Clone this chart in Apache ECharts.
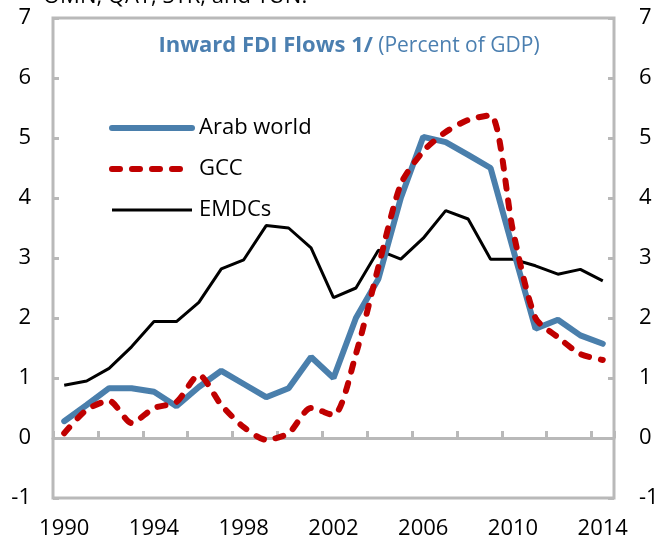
<!DOCTYPE html>
<html>
<head>
<meta charset="utf-8">
<script src="https://cdn.jsdelivr.net/npm/echarts@6/dist/echarts.min.js"></script>
<style>
  html, body { margin: 0; padding: 0; background: #fff; }
  #chart { width: 665px; height: 545px; }
</style>
</head>
<body>
<div id="chart"></div>
<script>
// years 1990-2014
const years = ['1990', '1991', '1992', '1993', '1994', '1995', '1996', '1997', '1998', '1999',
  '2000', '2001', '2002', '2003', '2004', '2005', '2006', '2007', '2008', '2009',
  '2010', '2011', '2012', '2013', '2014']

// inward FDI, percent of GDP
const arabWorld = [0.28, 0.55, 0.83, 0.83, 0.77, 0.53, 0.85, 1.12, 0.9, 0.68,
  0.83, 1.35, 1.0, 2.0, 2.65, 4.0, 5.02, 4.93, 4.72, 4.5,
  3.15, 1.82, 1.97, 1.71, 1.57]
const gcc = [0.08, 0.47, 0.62, 0.25, 0.5, 0.6, 1.05, 0.55, 0.18, -0.03,
  0.08, 0.5, 0.38, 1.4, 2.85, 4.23, 4.78, 5.1, 5.3, 5.38,
  3.45, 2.0, 1.68, 1.4, 1.3]
const emdcs = [0.88, 0.95, 1.16, 1.52, 1.94, 1.94, 2.26, 2.82, 2.97, 3.54,
  3.5, 3.17, 2.34, 2.5, 3.13, 2.98, 3.33, 3.79, 3.65, 2.98,
  2.98, 2.87, 2.73, 2.81, 2.62]

const yMin = -1
const yMax = 7

const font = 'Open Sans'
const gray = '#b9b9b9'
const blue = '#4a7fac'
const red = '#c00000'

const chart = echarts.init(document.getElementById('chart'))

const yAxisCommon = {
  type: 'value',
  min: yMin,
  max: yMax,
  interval: 1,
  axisLine: { show: false },
  axisTick: { show: true, inside: true, length: 6, lineStyle: { color: gray, width: 3 } },
  splitLine: { show: false },
}

chart.setOption({
  animation: false,
  grid: {
    left: 53,
    right: 51,
    top: 18,
    bottom: 47,
    show: true,
    borderColor: gray,
    borderWidth: 3,
    backgroundColor: 'transparent',
  },
  graphic: [
    {
      // footnote text cut off at the top of the picture
      type: 'text',
      left: 43,
      top: -14,
      style: { text: 'OMN, QAT, SYR, and TUN.', fontFamily: font, fontSize: 22, fill: '#000' },
    },
  ],
  title: {
    left: 344,
    top: 30,
    textAlign: 'center',
    text: '{b|Inward FDI Flows 1/}{n| (Percent of GDP)}',
    textStyle: {
      rich: {
        b: { fontFamily: font, fontSize: 22, fontWeight: 'bold', color: '#4b7fb0' },
        n: { fontFamily: font, fontSize: 21, fontWeight: 'normal', color: '#4b7fb0' },
      },
    },
  },
  legend: {
    orient: 'vertical',
    left: 104,
    top: 112,
    itemWidth: 80,
    itemHeight: 18,
    itemGap: 19,
    itemStyle: { opacity: 0 },
    textStyle: { fontFamily: font, fontSize: 22, color: '#000', padding: [0, 0, 0, 2] },
    data: [
      { name: 'Arab world', itemStyle: { opacity: 0 }, lineStyle: { color: blue, width: 6, cap: 'round' } },
      { name: 'GCC', itemStyle: { opacity: 0 }, lineStyle: { color: red, width: 6, type: [8, 12], cap: 'round' } },
      { name: 'EMDCs', itemStyle: { opacity: 0 }, lineStyle: { color: '#000', width: 3 } },
    ],
  },
  xAxis: [
    {
      type: 'category',
      data: years,
      boundaryGap: true,
      axisLine: { show: true, onZero: true, lineStyle: { color: gray, width: 3 } },
      axisTick: { show: true, inside: true, interval: 1, length: 7, lineStyle: { color: gray, width: 3 } },
      axisLabel: { show: false },
    },
    {
      type: 'category',
      data: years,
      position: 'bottom',
      boundaryGap: true,
      axisLine: { show: false, onZero: false },
      axisTick: { show: false },
      axisLabel: { interval: 3, margin: 20, fontFamily: font, fontSize: 22, color: '#000' },
    },
  ],
  yAxis: [
    Object.assign({}, yAxisCommon, {
      position: 'left',
      axisLabel: { margin: 22, fontFamily: font, fontSize: 22, color: '#000' },
    }),
    Object.assign({}, yAxisCommon, {
      position: 'right',
      axisLabel: { margin: 25, fontFamily: font, fontSize: 22, color: '#000' },
    }),
  ],
  series: [
    {
      name: 'EMDCs',
      type: 'line',
      data: emdcs,
      symbol: 'none',
      lineStyle: { color: '#000', width: 3 },
      itemStyle: { color: '#000' },
      z: 3,
    },
    {
      name: 'Arab world',
      type: 'line',
      data: arabWorld,
      symbol: 'none',
      lineStyle: { color: blue, width: 6, cap: 'round' },
      itemStyle: { color: blue },
      z: 4,
    },
    {
      name: 'GCC',
      type: 'line',
      data: gcc,
      symbol: 'none',
      smooth: 0.25,
      lineStyle: { color: red, width: 6, type: [8, 12], cap: 'round' },
      itemStyle: { color: red },
      z: 5,
    },
  ],
})
</script>
</body>
</html>
